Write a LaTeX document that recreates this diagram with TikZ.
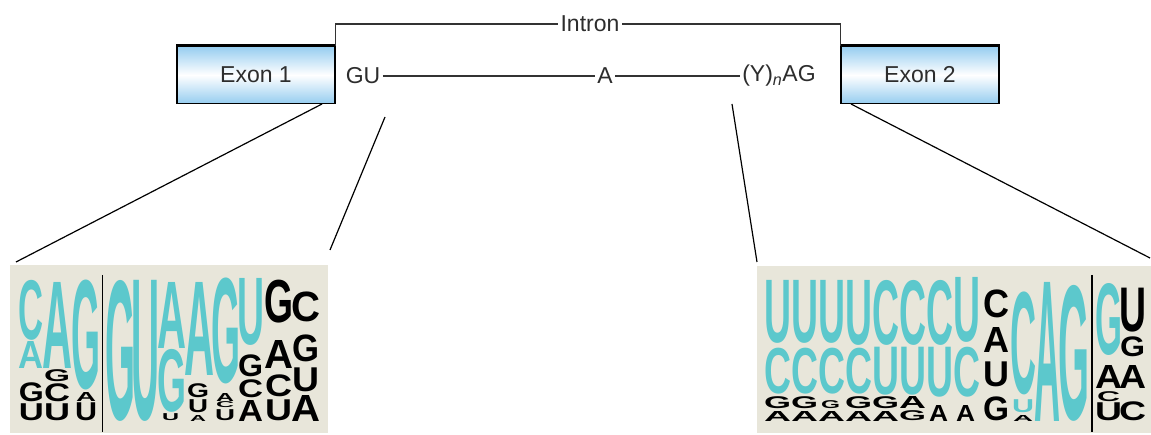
\documentclass[tikz,border=0pt]{standalone}
\usepackage{fontspec}
\setmainfont{Liberation Sans}
\usepackage{graphicx}
\definecolor{tealL}{RGB}{92,200,204}
\definecolor{logobg}{RGB}{232,230,218}
\definecolor{exblue}{RGB}{150,205,240}
\definecolor{lbltext}{RGB}{45,45,45}
\newcounter{lgc}
\newcommand{\logolet}[6]{% x1, x2, ytop, ybot, letter, colour
  \stepcounter{lgc}%
  \node[logoletter, text=#6] (lg\arabic{lgc}) at (#1-2,#3)
    {\resizebox*{\dimexpr #2pt-#1pt+4pt\relax}{\dimexpr #4pt-#3pt\relax}{\textbf{#5}}};}
\tikzset{
  logoletter/.style={anchor=north west, inner sep=0pt, outer sep=0pt},
  exon/.style={draw=black, line width=1.6pt, top color=exblue, bottom color=exblue,
    middle color=white, minimum width=158pt, minimum height=57pt, inner sep=0pt,
    font=\fontsize{23}{25}\selectfont, text=lbltext},
  lbl/.style={inner sep=2.5pt, font=\fontsize{23}{25}\selectfont, text=lbltext},
  thinline/.style={draw=black!80, line width=1.1pt},
  projline/.style={draw=black, line width=1.2pt},
  logobox/.style={fill=logobg, draw=none, anchor=north west, inner sep=0pt},
  sepline/.style={draw=black, line width=1.6pt}
}
\begin{document}
\begin{tikzpicture}[x=1pt,y=-1pt]
\useasboundingbox (0,0) rectangle (1151,435);
\fill[white] (0,0) rectangle (1151,435);
% exons
\node[exon] (ex1) at (256,75) {Exon 1};
\node[exon] (ex2) at (920,75) {Exon 2};
\draw[line width=3pt] (ex1.north west) -- (ex1.north east);
\draw[line width=3pt] (ex2.north west) -- (ex2.north east);
% intron bracket
\node[lbl] (intron) at (590,24) {Intron};
\draw[thinline] (ex1.north east) |- (intron.west);
\draw[thinline] (intron.east) -| (ex2.north west);
% intron sequence line
\node[lbl] (gu) at (363,76) {GU};
\node[lbl] (bp) at (605,76) {A};
\node[lbl] (yag) at (779,76) {(Y)\textsubscript{\textit{n}}AG};
\draw[thinline] (gu) -- (bp);
\draw[thinline] (bp) -- (yag);
% logo backgrounds
\node[logobox, minimum width=318pt, minimum height=168pt] (logoL) at (10,265) {};
\node[logobox, minimum width=394pt, minimum height=167pt] (logoR) at (757,266) {};
% projection lines
\coordinate (p1a) at (322,104); \coordinate (p1b) at (16,262);
\coordinate (p2a) at (385,117); \coordinate (p2b) at (330,250);
\coordinate (p3a) at (732,104); \coordinate (p3b) at (757,262);
\coordinate (p4a) at (851,104); \coordinate (p4b) at (1150,258);
\draw[projline] (p1a) -- (p1b);
\draw[projline] (p2a) -- (p2b);
\draw[projline] (p3a) -- (p3b);
\draw[projline] (p4a) -- (p4b);
% separator lines
\coordinate (sL1) at (102.5,275); \coordinate (sL2) at (102.5,432);
\coordinate (sR1) at (1092,275); \coordinate (sR2) at (1092,432);
\draw[sepline] (sL1) -- (sL2);
\draw[sepline] (sR1) -- (sR2);
% ---------- left logo ----------
\logolet{21}{42}{280}{340}{C}{tealL}
\logolet{21}{42}{341}{368}{A}{tealL}
\logolet{21}{42}{383}{402}{G}{black}
\logolet{21}{42}{404}{421}{U}{black}
\logolet{44}{70}{282}{368}{A}{tealL}
\logolet{46}{68}{370}{382}{G}{black}
\logolet{46}{68}{384}{402}{C}{black}
\logolet{46}{68}{404}{421}{U}{black}
\logolet{73}{98}{280}{390}{G}{tealL}
\logolet{78}{94}{392}{401}{A}{black}
\logolet{77}{95}{403}{421}{U}{black}
\logolet{107}{133}{280}{421}{G}{tealL}
\logolet{133}{157}{280}{421}{U}{tealL}
\logolet{159}{184}{282}{348}{A}{tealL}
\logolet{159}{184}{349}{412}{G}{tealL}
\logolet{164}{177}{414}{421}{U}{black}
\logolet{186}{212}{282}{375}{A}{tealL}
\logolet{189}{207}{384}{398}{G}{black}
\logolet{190}{206}{400}{413}{U}{black}
\logolet{192}{204}{415}{421}{A}{black}
\logolet{213}{238}{278}{384}{G}{tealL}
\logolet{218}{232}{393}{401}{A}{black}
\logolet{218}{232}{402}{408}{C}{black}
\logolet{217}{233}{410}{421}{U}{black}
\logolet{239}{262}{278}{345}{U}{tealL}
\logolet{240}{261}{355}{377}{G}{black}
\logolet{240}{261}{380}{398}{C}{black}
\logolet{240}{261}{400}{421}{A}{black}
\logolet{266}{291}{280}{323}{G}{black}
\logolet{266}{291}{340}{368}{A}{black}
\logolet{267}{290}{375}{397}{C}{black}
\logolet{267}{290}{400}{421}{U}{black}
\logolet{293}{318}{292}{322}{C}{black}
\logolet{294}{317}{335}{362}{G}{black}
\logolet{294}{317}{368}{392}{U}{black}
\logolet{293}{318}{395}{421}{A}{black}
% ---------- right logo ----------
% columns 1-4
\logolet{766}{789}{280}{343}{U}{tealL}
\logolet{766}{789}{348}{394}{C}{tealL}
\logolet{766}{789}{397}{409}{G}{black}
\logolet{766}{789}{411}{421}{A}{black}
\logolet{793}{816}{280}{343}{U}{tealL}
\logolet{793}{816}{348}{394}{C}{tealL}
\logolet{793}{816}{397}{409}{G}{black}
\logolet{793}{816}{411}{421}{A}{black}
\logolet{820}{843}{280}{343}{U}{tealL}
\logolet{820}{843}{348}{394}{C}{tealL}
\logolet{823}{838}{401}{409}{G}{black}
\logolet{820}{843}{411}{421}{A}{black}
\logolet{847}{870}{280}{345}{U}{tealL}
\logolet{847}{870}{348}{394}{C}{tealL}
\logolet{847}{870}{397}{409}{G}{black}
\logolet{847}{870}{411}{421}{A}{black}
% columns 5-8
\logolet{874}{897}{280}{345}{C}{tealL}
\logolet{874}{897}{347}{395}{U}{tealL}
\logolet{874}{897}{397}{409}{G}{black}
\logolet{874}{897}{411}{421}{A}{black}
\logolet{901}{924}{280}{345}{C}{tealL}
\logolet{901}{924}{347}{395}{U}{tealL}
\logolet{901}{924}{397}{409}{A}{black}
\logolet{901}{924}{411}{421}{G}{black}
\logolet{928}{951}{280}{345}{C}{tealL}
\logolet{928}{951}{347}{397}{U}{tealL}
\logolet{931}{946}{405}{421}{A}{black}
\logolet{955}{978}{277}{342}{U}{tealL}
\logolet{955}{978}{347}{397}{C}{tealL}
\logolet{958}{973}{405}{421}{A}{black}
% column 9 black
\logolet{985}{1007}{290}{318}{C}{black}
\logolet{985}{1007}{327}{352}{A}{black}
\logolet{985}{1007}{362}{387}{U}{black}
\logolet{985}{1007}{397}{421}{G}{black}
% columns 10-12
\logolet{1012}{1034}{292}{395}{C}{tealL}
\logolet{1014}{1032}{400}{413}{U}{tealL}
\logolet{1015}{1031}{415}{421}{A}{black}
\logolet{1036}{1058}{282}{421}{A}{tealL}
\logolet{1060}{1087}{285}{421}{G}{tealL}
% columns 13-14
\logolet{1097}{1120}{283}{355}{G}{tealL}
\logolet{1097}{1120}{365}{388}{A}{black}
\logolet{1099}{1118}{392}{402}{C}{black}
\logolet{1097}{1120}{403}{421}{U}{black}
\logolet{1121}{1144}{288}{332}{U}{black}
\logolet{1122}{1143}{337}{357}{G}{black}
\logolet{1121}{1144}{365}{388}{A}{black}
\logolet{1121}{1144}{402}{421}{C}{black}
\end{tikzpicture}
\end{document}
